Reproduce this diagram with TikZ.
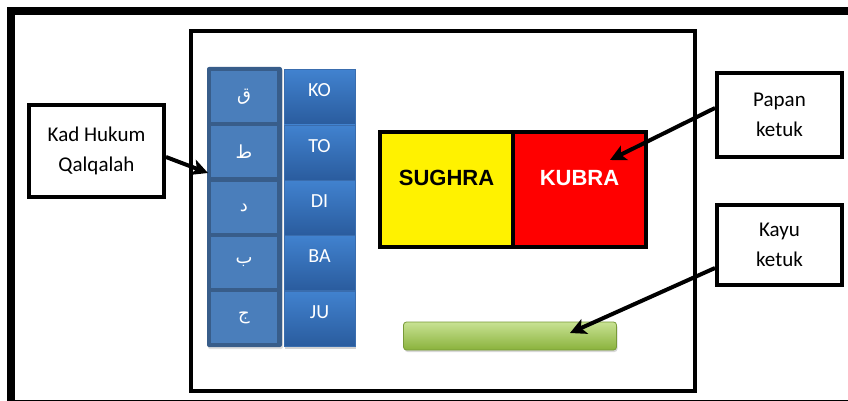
\documentclass[tikz,border=0pt]{standalone}
\usepackage{fontspec}
\setmainfont{Carlito}
\newfontfamily\arialfont{Liberation Sans}
\newfontfamily\arabicfont[Script=Arabic]{DejaVu Sans}
\TeXXeTstate=1
\usetikzlibrary{arrows.meta,shadows,calc}
\definecolor{colframe}{HTML}{385D8A}
\definecolor{cellblue}{HTML}{4A7EBB}
\definecolor{btop}{HTML}{4182CF}
\definecolor{bbot}{HTML}{2A5C9E}
\definecolor{bline}{HTML}{3A6DAE}
\definecolor{gtop}{HTML}{C8E293}
\definecolor{gbot}{HTML}{8AB23C}
\definecolor{gline}{HTML}{789A38}
\tikzset{
  labelbox/.style={draw=black, line width=4pt, fill=white, align=center,
    font=\fontsize{21}{30}\selectfont, inner sep=0pt,
    drop shadow={opacity=0.25, shadow xshift=1.5pt, shadow yshift=-1.5pt}},
  cellbox/.style={fill=cellblue, minimum width=66pt, minimum height=51pt, inner sep=0pt,
    text=white, font=\arabicfont\fontsize{18}{18}\selectfont},
  sylbox/.style={top color=btop, bottom color=bbot, draw=bline, line width=0.6pt,
    minimum width=71pt, text height=27.5pt, text depth=27.5pt, inner sep=0pt,
    text=white, font=\fontsize{20}{20}\selectfont,
    drop shadow={opacity=0.35, shadow xshift=1pt, shadow yshift=-2.5pt}},
  halfbox/.style={draw=black, line width=3.5pt, minimum width=133pt,
    text height=53pt, text depth=62pt, inner sep=0pt,
    font=\arialfont\bfseries\fontsize{22}{22}\selectfont},
  pointer/.style={draw=black, line width=4pt, -{Stealth[length=16pt,width=16pt,inset=4pt]}}
}
\begin{document}
\begin{tikzpicture}[x=1pt,y=-1pt]
\useasboundingbox (0,0) rectangle (848,401);
\clip (0,0) rectangle (848,401);
\fill[white] (0,0) rectangle (848,401);
% outer frame
\draw[line width=8pt] (11,11) rectangle (880,403.5);
% inner board
\node[draw=black, line width=4pt, minimum width=504.5pt, minimum height=360pt, inner sep=0pt] (board) at (442.75,211) {};
% Arabic card column
\node[fill=colframe, rounded corners=2pt, minimum width=75pt, minimum height=280pt, inner sep=0pt,
  drop shadow={opacity=0.25, shadow xshift=1pt, shadow yshift=-2pt}] (col) at (244.5,207) {};
\node[cellbox] (c1) at (244,97) {\beginR ق\endR};
\node[cellbox] (c2) at (244,151.5) {\beginR ط\endR};
\node[cellbox] (c3) at (244,207.5) {\beginR د\endR};
\node[cellbox] (c4) at (244,262.5) {\beginR ب\endR};
\node[cellbox] (c5) at (244,317.5) {\beginR ج\endR};
% syllable column
\node[sylbox] (s1) at (319.5,97) {KO};
\node[sylbox] (s2) at (319.5,152.5) {TO};
\node[sylbox] (s3) at (319.5,207.5) {DI};
\node[sylbox] (s4) at (319.5,262.5) {BA};
\node[sylbox] (s5) at (319.5,318.5) {JU};
% knocking board
\node[halfbox, fill=yellow] (sughra) at (446.5,189.5) {SUGHRA};
\node[halfbox, fill=red, text=white] (kubra) at (579.5,189.5) {KUBRA};
% knocking stick
\node[top color=gtop, bottom color=gbot, draw=gline, line width=0.8pt, rounded corners=3pt,
  minimum width=213pt, minimum height=28pt, inner sep=0pt,
  drop shadow={opacity=0.3, shadow xshift=1pt, shadow yshift=-2pt}] (stick) at (510,336) {};
% label boxes
\node[labelbox, minimum width=135pt, minimum height=92pt] (kad) at (96.5,151) {Kad Hukum\\Qalqalah};
\node[labelbox, minimum width=125pt, minimum height=84pt] (papan) at (779.5,115) {Papan\\ketuk};
\node[labelbox, minimum width=125pt, minimum height=80pt] (kayu) at (779.5,245) {Kayu\\ketuk};
% arrows
\coordinate (kadfrom) at ($(kad.east)+(0,6)$);
\coordinate (kadtip) at (208,173);
\coordinate (papanfrom) at ($(papan.west)+(0,-7)$);
\coordinate (papantip) at (610,160);
\coordinate (kayufrom) at ($(kayu.west)+(0,23)$);
\coordinate (kayutip) at (570,333);
\draw[pointer] (kadfrom) -- (kadtip);
\draw[pointer] (papanfrom) -- (papantip);
\draw[pointer] (kayufrom) -- (kayutip);
\end{tikzpicture}
\end{document}
